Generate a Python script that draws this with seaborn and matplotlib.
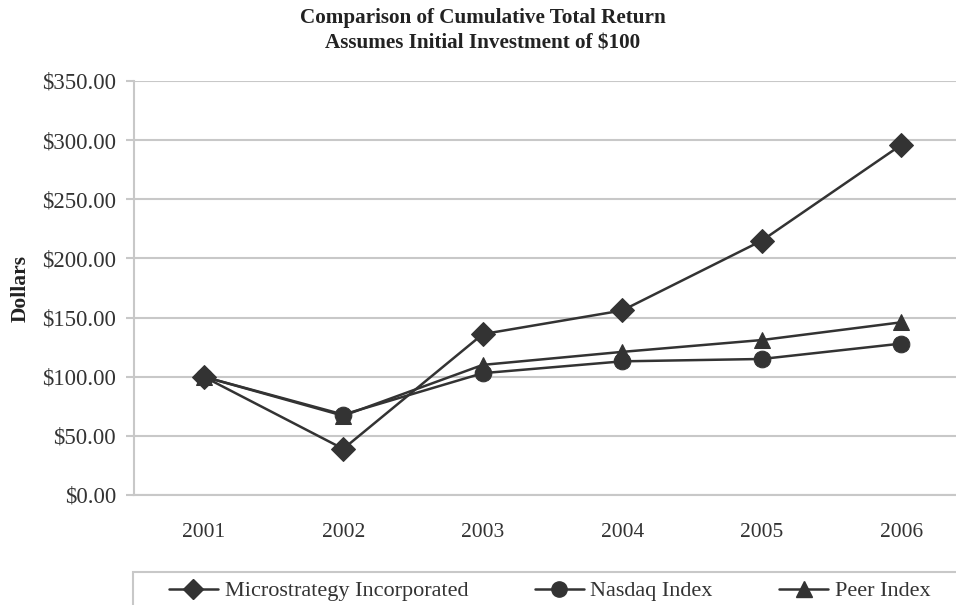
import matplotlib
matplotlib.use("Agg")
import matplotlib.pyplot as plt
import seaborn as sns
import pandas as pd
from matplotlib.patches import Rectangle
from matplotlib.ticker import FuncFormatter
from matplotlib.lines import Line2D

years = ["2001", "2002", "2003", "2004", "2005", "2006"]
microstrategy = [100, 39, 136, 156, 215, 296]
nasdaq = [100, 68, 103, 113, 115, 128]
peer = [100, 67, 110, 121, 131, 146]
series_names = ["Microstrategy Incorporated", "Nasdaq Index", "Peer Index"]
title = "Comparison of Cumulative Total Return\nAssumes Initial Investment of $100"
y_ticks = [0, 50, 100, 150, 200, 250, 300, 350]

rows = []
for name, vals in zip(series_names, [microstrategy, nasdaq, peer]):
    for yr, v in zip(years, vals):
        rows.append({"Year": yr, "Value": v, "Series": name})
df = pd.DataFrame(rows)

sns.set_theme(style="white")
plt.rcParams["font.family"] = ["Liberation Serif", "DejaVu Serif"]

fig = plt.figure(figsize=(9.56, 6.05), dpi=100)
W, H = 956, 605
ax = fig.add_axes([134 / W, 1 - 495 / H, (971 - 134) / W, (495 - 81) / H])

line_color = "#333333"
sns.lineplot(data=df, x="Year", y="Value", style="Series", markers=["D", "o", "^"],
             dashes=False, color=line_color, linewidth=1.8, markersize=12,
             markeredgecolor=line_color, ax=ax, legend=False, sort=False)

ax.set_xlim(-0.5, 5.5)
ax.set_ylim(0, 350)
ax.set_yticks(y_ticks)
ax.yaxis.set_major_formatter(FuncFormatter(lambda v, p: f"${v:,.2f}"))
ax.grid(axis="y", color="#c8c8c8", linewidth=1.5)
ax.set_axisbelow(True)
for s in ["top", "right"]:
    ax.spines[s].set_visible(False)
for s in ["left", "bottom"]:
    ax.spines[s].set_color("#c8c8c8")
    ax.spines[s].set_linewidth(1.5)
ax.tick_params(axis="y", which="major", length=6, width=1.5, color="#c8c8c8",
               labelsize=16.5, labelcolor="#333333", pad=7, left=True)
ax.tick_params(axis="x", length=0, labelsize=15.5, labelcolor="#333333", pad=20)
ax.set_xlabel("")
ax.set_ylabel("Dollars", fontsize=15.5, fontweight="bold", color="#222222", labelpad=8)

fig.text(483 / W, 1 - 31 / H, title, ha="center", va="center", fontsize=15.2,
         fontweight="bold", color="#222222", linespacing=1.4)

# legend
handles = [Line2D([], [], color=line_color, lw=1.8, marker=m, markersize=s,
                  markeredgecolor=line_color)
           for m, s in zip(["D", "o", "^"], [10, 11, 11])]
fig.patches.append(Rectangle((133 / W, 1 - 612 / H), (970 - 133) / W, 40 / H,
                             transform=fig.transFigure, facecolor="white",
                             edgecolor="#c8c8c8", linewidth=1.5))
fig.legend(handles, series_names, loc="center left",
           bbox_to_anchor=(149 / W, 1 - 591 / H), ncol=3, frameon=False,
           fontsize=16, handlelength=2.2, handletextpad=0.3, columnspacing=3.0,
           labelcolor="#333333")

fig.savefig("out.png", dpi=100)
